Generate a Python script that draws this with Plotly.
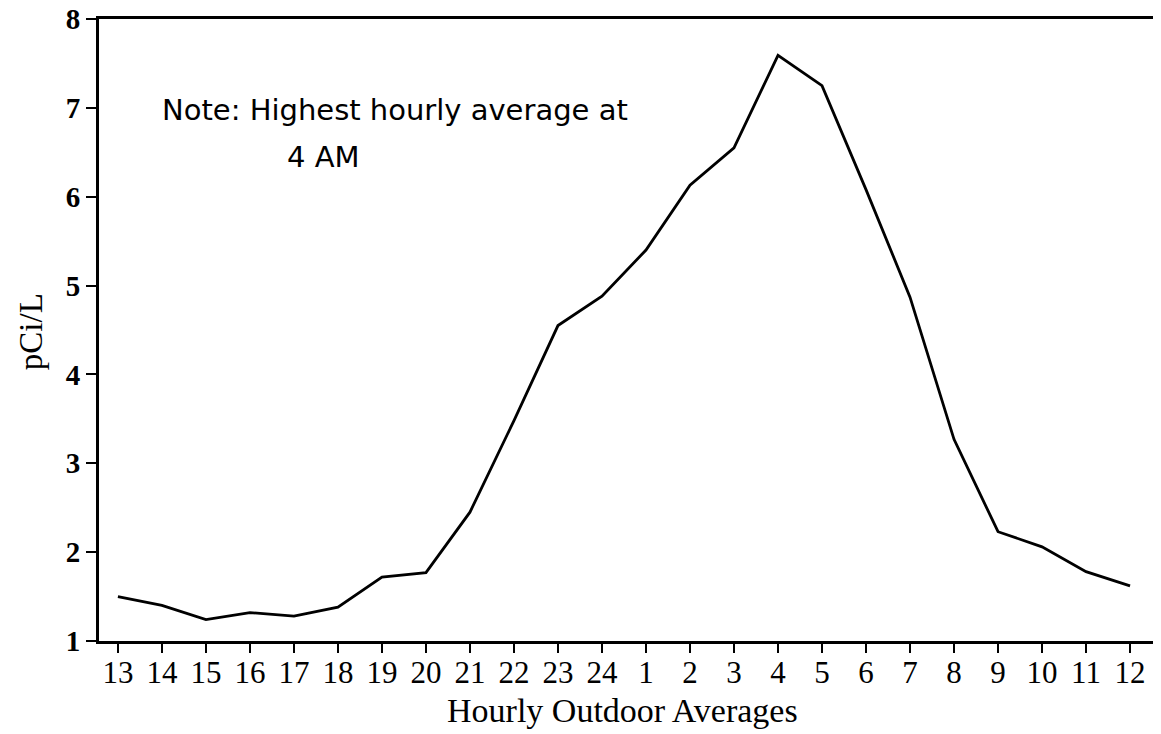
import plotly.graph_objects as go

hours = ["13", "14", "15", "16", "17", "18", "19", "20", "21", "22", "23", "24",
         "1", "2", "3", "4", "5", "6", "7", "8", "9", "10", "11", "12"]
pci_l = [1.50, 1.40, 1.24, 1.32, 1.28, 1.38, 1.72, 1.77, 2.45, 3.48, 4.55, 4.88,
         5.40, 6.13, 6.55, 7.59, 7.25, 6.08, 4.87, 3.27, 2.23, 2.06, 1.78, 1.62]
y_ticks = [1, 2, 3, 4, 5, 6, 7, 8]

serif = "Liberation Serif"

fig = go.Figure()
fig.add_trace(go.Scatter(x=hours, y=pci_l, mode="lines",
                         line=dict(color="black", width=2.8), hoverinfo="skip"))

fig.update_layout(
    width=1153, height=726,
    margin=dict(l=91, r=5, t=11, b=93),
    paper_bgcolor="white", plot_bgcolor="white",
    showlegend=False,
    xaxis=dict(
        type="category", range=[-0.43, 23.59], automargin=False,
        showline=True, linecolor="black", linewidth=3, mirror=True,
        ticks="outside", ticklen=9, tickwidth=2, tickcolor="black",
        ticklabelstandoff=-7, ticklabeloverflow="allow",
        showgrid=False, zeroline=False,
        tickfont=dict(family=serif, size=31, color="black"),
    ),
    yaxis=dict(
        range=[1, 8], tickvals=y_ticks, automargin=False,
        showline=True, linecolor="black", linewidth=3, mirror=True,
        ticks="outside", ticklen=10, tickwidth=2, tickcolor="black",
        ticklabeloverflow="allow",
        showgrid=False, zeroline=False,
        tickfont=dict(family=serif, size=29, color="black", weight="bold"),
    ),
    annotations=[
        dict(text="Hourly Outdoor Averages", xref="paper", yref="paper",
             x=0.495, y=-0.1125, xanchor="center", yanchor="middle", showarrow=False,
             font=dict(family=serif, size=34, color="black")),
        dict(text="pCi/L", xref="paper", yref="paper", textangle=-90,
             x=-0.064, y=0.497, xanchor="center", yanchor="middle", showarrow=False,
             font=dict(family=serif, size=33, color="black")),
        dict(text="Note: Highest hourly average at", xref="paper", yref="paper",
             x=0.0577, y=0.854, xanchor="left", yanchor="middle", showarrow=False,
             font=dict(family="DejaVu Sans", size=29, color="black")),
        dict(text="4 AM", xref="paper", yref="paper",
             x=0.176, y=0.778, xanchor="left", yanchor="middle", showarrow=False,
             font=dict(family="DejaVu Sans", size=29, color="black")),
    ],
)

fig.write_html("out.html")
